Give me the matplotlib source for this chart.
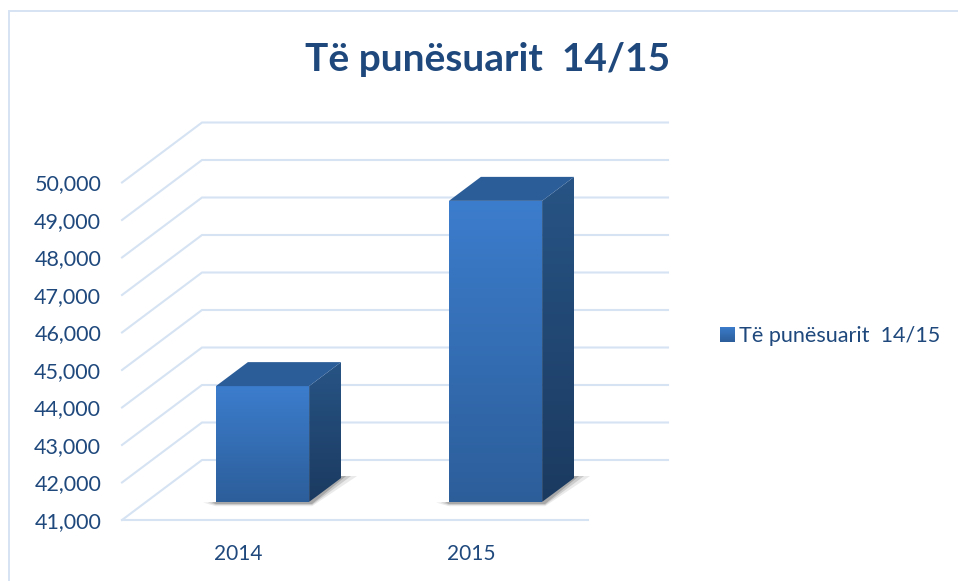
import numpy as np
import matplotlib.pyplot as plt
from matplotlib.colors import to_rgb
from matplotlib.patches import Patch, Polygon

plt.rcParams["font.family"] = ["Lato", "DejaVu Sans"]

categories = ["2014", "2015"]
values = [44090, 49030]
y_ticks = [41000, 42000, 43000, 44000, 45000, 46000, 47000, 48000, 49000, 50000]
title = "Të punësuarit  14/15"

TEXT = "#1F497D"
GRID = "#D6E3F3"

fig = plt.figure(figsize=(9.58, 5.81), dpi=100)
ax = fig.add_axes([0, 0, 1, 1])
ax.patch.set_visible(False)

# one category is 233 px, 1000 units are 37.5 px
px_x = 1 / 233
px_y = 1000 / 37.5
depth_x = 80 * px_x
depth_y = 60 * px_y
xlim = (-0.5 - 122 * px_x, -0.5 + 836 * px_x)
ylim = (41000 - 61 * px_y, 41000 + 520 * px_y)


def gradient_img(top, bottom):
    return np.linspace(to_rgb(top), to_rgb(bottom), 256)[:, None, :]


def gradient_face(corners, top, bottom):
    xs = [c[0] for c in corners]
    ys = [c[1] for c in corners]
    im = ax.imshow(
        gradient_img(top, bottom),
        extent=(min(xs), max(xs), min(ys), max(ys)),
        aspect="auto",
        origin="upper",
        zorder=3,
    )
    poly = Polygon(corners, closed=True, transform=ax.transData, fc="none", ec="none")
    ax.add_patch(poly)
    im.set_clip_path(poly)


# back wall, side wall and floor lines
for v in y_ticks:
    ax.plot(
        [-0.5, -0.5 + depth_x, 1.5 + depth_x],
        [v, v + depth_y, v + depth_y],
        color=GRID,
        lw=1.5,
        zorder=1,
        solid_joinstyle="miter",
    )
ax.plot([-0.5, 1.5], [y_ticks[0], y_ticks[0]], color=GRID, lw=1.5, zorder=1)

bar_w = 0.4
d0, d1 = 0.3, 0.7
for i, v in enumerate(values):
    x0 = i - bar_w / 2 + d0 * depth_x
    x1 = i + bar_w / 2 + d0 * depth_x
    bx = (d1 - d0) * depth_x
    by = (d1 - d0) * depth_y
    base = y_ticks[0] + d0 * depth_y
    top = v + d0 * depth_y

    # soft shadow on the floor
    for grow, alpha in [(1.6, 0.12), (1.0, 0.2), (0.5, 0.3)]:
        ax.add_patch(
            Polygon(
                [
                    (x0 - 8 * grow * px_x, base - 0.5 * px_y),
                    (x0, base - (1 + 2 * grow) * px_y),
                    (x1 + 3 * px_x, base - (1 + 2 * grow) * px_y),
                    (x1 + bx + 10 * grow * px_x, base + by + 2 * px_y),
                    (x1 + bx, base + by + 2 * px_y),
                    (x1, base),
                    (x0, base),
                ],
                fc="#555555",
                ec="none",
                alpha=alpha,
                zorder=2,
            )
        )

    gradient_face([(x0, base), (x1, base), (x1, top), (x0, top)], "#3C7DCD", "#2C5E9A")
    gradient_face(
        [(x1, base), (x1 + bx, base + by), (x1 + bx, top + by), (x1, top)],
        "#275485",
        "#1B3A60",
    )
    ax.add_patch(
        Polygon(
            [(x0, top), (x1, top), (x1 + bx, top + by), (x0 + bx, top + by)],
            fc="#2B5D99",
            ec="none",
            zorder=3,
        )
    )

ax.set_xlim(xlim)
ax.set_ylim(ylim)

for name in ["top", "right", "left", "bottom"]:
    ax.spines[name].set_visible(False)
ax.spines["left"].set_position(("data", -0.5))
ax.spines["bottom"].set_position(("data", y_ticks[0]))
ax.set_yticks(y_ticks, [f"{v:,}" for v in y_ticks])
ax.set_xticks([0, 1], categories)
ax.tick_params(axis="y", length=0, pad=15, labelsize=15.5, labelcolor=TEXT)
ax.tick_params(axis="x", length=0, pad=17, labelsize=15, labelcolor=TEXT)

fig.text(488 / 958, 1 - 71 / 581, title, ha="center", va="baseline", color=TEXT, fontsize=28, fontweight="bold")

leg = ax.legend(
    handles=[Patch(facecolor="#3368A8", edgecolor="none", label=title)],
    loc="center left",
    bbox_to_anchor=(720 / 958, 1 - 336 / 581),
    frameon=False,
    fontsize=15.6,
    labelcolor=TEXT,
    handlelength=0.65,
    handleheight=0.7,
    handletextpad=0.23,
    borderaxespad=0,
    borderpad=0,
)

# gradient on the legend swatch
fig.canvas.draw()
box = leg.get_patches()[0].get_window_extent().transformed(fig.transFigure.inverted())
swatch = fig.add_axes(box.bounds)
swatch.imshow(gradient_img("#3C7DCD", "#2C5E9A"), aspect="auto")
swatch.axis("off")

# chart area border, only left and top show
fig.add_artist(plt.Line2D([9 / 958, 9 / 958, 1], [0, 1 - 10.5 / 581, 1 - 10.5 / 581], color=GRID, lw=1.4, solid_joinstyle="miter"))

fig.savefig("out.png", dpi=100)
